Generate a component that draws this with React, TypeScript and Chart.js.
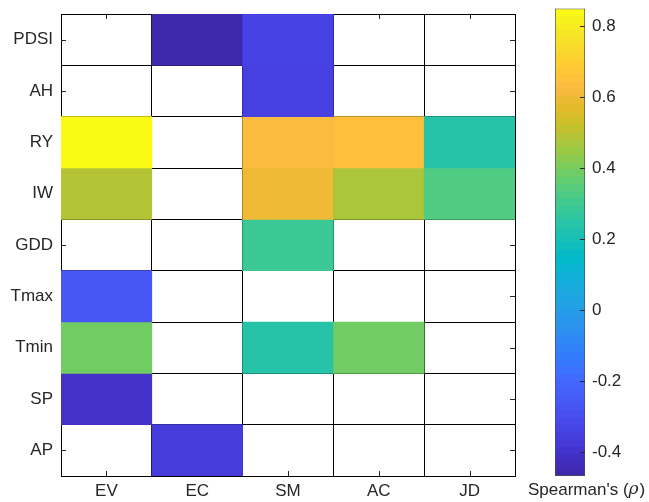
import { useEffect, useRef } from 'react';
import { Chart, registerables } from 'chart.js';

Chart.register(...registerables);

// ---- data ----
const columns = ['EV', 'EC', 'SM', 'AC', 'JD'];
const rowLabels = ['PDSI', 'AH', 'RY', 'IW', 'GDD', 'Tmax', 'Tmin', 'SP', 'AP'];

const PDSI = [null, -0.46, -0.34, null, null];
const AH = [null, null, -0.35, null, null];
const RY = [0.85, null, 0.625, 0.65, 0.24];
const IW = [0.49, null, 0.6, 0.475, 0.33];
const GDD = [null, null, 0.29, null, null];
const Tmax = [-0.26, null, null, null, null];
const Tmin = [0.39, null, 0.24, 0.39, null];
const SP = [-0.41, null, null, null, null];
const AP = [null, -0.365, null, null, null];

const colorMin = -0.467;
const colorMax = 0.85;
const colorbarTicks = [-0.4, -0.2, 0, 0.2, 0.4, 0.6, 0.8];
const colorbarLabel = "Spearman's (";
const colorbarSymbol = 'ρ';

const matrix: (number | null)[][] = [PDSI, AH, RY, IW, GDD, Tmax, Tmin, SP, AP];

// ---- parula colormap (style) ----
const parulaStops: number[][] = [
  [0, 0.2422, 0.1504, 0.6603], [16, 0.2704, 0.2138, 0.8346], [32, 0.2813, 0.2985, 0.9397],
  [48, 0.271, 0.386, 0.9898], [57, 0.2424, 0.4378, 0.9991], [64, 0.2006, 0.4803, 0.9906],
  [80, 0.1716, 0.5655, 0.9393], [96, 0.1288, 0.6408, 0.891], [112, 0.0433, 0.7039, 0.8242],
  [119, 0.0009, 0.7248, 0.7815], [128, 0.077, 0.7468, 0.7224], [144, 0.2061, 0.7808, 0.6065],
  [160, 0.3671, 0.8021, 0.4563], [170, 0.5044, 0.7993, 0.348], [176, 0.5886, 0.7913, 0.2833],
  [192, 0.7945, 0.7554, 0.157], [200, 0.8804, 0.7372, 0.165], [208, 0.9523, 0.7284, 0.2237],
  [212, 0.9842, 0.733, 0.2446], [216, 0.9971, 0.7513, 0.2309], [224, 0.9938, 0.7974, 0.1974],
  [240, 0.9601, 0.8963, 0.1507], [255, 0.9769, 0.9839, 0.0805],
];

function parula(t: number): string {
  const x = Math.max(0, Math.min(1, t)) * 255;
  let i = 0;
  while (i < parulaStops.length - 2 && parulaStops[i + 1][0] < x) i++;
  const a = parulaStops[i];
  const b = parulaStops[i + 1];
  const f = (x - a[0]) / (b[0] - a[0]);
  const c = [1, 2, 3].map((k) => Math.round((a[k] + (b[k] - a[k]) * f) * 255));
  return `rgb(${c[0]},${c[1]},${c[2]})`;
}

const colorFor = (v: number) => parula((v - colorMin) / (colorMax - colorMin));

const FONT = { family: '"Liberation Sans", Arial, Helvetica, sans-serif', size: 17 };
const TEXT = '#262626';

export default function App() {
  const heatRef = useRef<HTMLCanvasElement>(null);
  const barRef = useRef<HTMLCanvasElement>(null);

  useEffect(() => {
    const tickMarks = {
      id: 'tickMarks',
      beforeDatasetsDraw(chart: any) {
        const { ctx, chartArea: a, scales } = chart;
        ctx.save();
        ctx.strokeStyle = TEXT;
        ctx.lineWidth = 1;
        ctx.beginPath();
        rowLabels.forEach((_, i) => {
          const y = Math.round(scales.y.getPixelForValue(i + 0.5)) + 0.5;
          ctx.moveTo(a.left, y); ctx.lineTo(a.left + 5, y);
          ctx.moveTo(a.right - 5, y); ctx.lineTo(a.right, y);
        });
        columns.forEach((_, j) => {
          const x = Math.round(scales.x.getPixelForValue(j)) + 0.5;
          ctx.moveTo(x, a.top); ctx.lineTo(x, a.top + 5);
          ctx.moveTo(x, a.bottom - 5); ctx.lineTo(x, a.bottom);
        });
        ctx.stroke();
        ctx.restore();
      },
    };

    const heat = new Chart(heatRef.current!, {
      type: 'bar',
      data: {
        labels: columns,
        datasets: rowLabels.map((name, i) => ({
          label: name,
          data: matrix[i].map((v) => (v === null ? null : [i, i + 1])) as any,
          backgroundColor: matrix[i].map((v) => (v === null ? '#ffffff' : colorFor(v))),
          borderWidth: 0,
          grouped: false,
          barPercentage: 1,
          categoryPercentage: 1,
          yAxisID: 'y',
        })),
      },
      options: {
        responsive: false,
        animation: false,
        events: [],
        layout: { padding: { left: 0, right: 134, top: 14, bottom: 0 } },
        plugins: { legend: { display: false }, tooltip: { enabled: false } },
        scales: {
          x: {
            type: 'category',
            offset: true,
            z: 1,
            grid: { display: true, offset: true, color: '#000', lineWidth: 1, drawTicks: false },
            border: { display: true, color: '#000' },
            ticks: { font: FONT, color: TEXT, padding: 5, maxRotation: 0, autoSkip: false },
            afterFit: (s: any) => { s.height = 26; s.paddingLeft = 0; s.paddingRight = 0; },
          },
          y: {
            type: 'linear',
            min: 0,
            max: 9,
            reverse: true,
            position: 'left',
            grid: { display: false, drawTicks: false },
            border: { display: false },
            afterBuildTicks: (s: any) => { s.ticks = rowLabels.map((_, i) => ({ value: i + 0.5 })); },
            ticks: {
              font: FONT, color: TEXT, padding: 8, autoSkip: false,
              callback: (v: any) => rowLabels[Math.floor(Number(v))],
            },
            afterFit: (s: any) => { s.width = 61; s.paddingTop = 0; s.paddingBottom = 0; },
          },
          yg: {
            type: 'linear',
            min: 0,
            max: 9,
            reverse: true,
            position: 'left',
            z: 1,
            grid: { display: true, color: '#000', lineWidth: 1, drawTicks: false },
            border: { display: false },
            ticks: { display: false, stepSize: 1 },
            afterFit: (s: any) => { s.width = 0; s.paddingTop = 0; s.paddingBottom = 0; },
          },
        },
      } as any,
      plugins: [tickMarks],
    });

    const colorbarDecor = {
      id: 'colorbarDecor',
      afterDatasetsDraw(chart: any) {
        const { ctx, chartArea: a, scales } = chart;
        ctx.save();
        ctx.strokeStyle = TEXT;
        ctx.lineWidth = 1;
        ctx.beginPath();
        colorbarTicks.forEach((t) => {
          const y = Math.round(scales.y.getPixelForValue(t)) + 0.5;
          ctx.moveTo(a.right - 5, y); ctx.lineTo(a.right, y);
        });
        ctx.stroke();
        // label
        ctx.fillStyle = TEXT;
        ctx.textBaseline = 'middle';
        ctx.textAlign = 'left';
        const ff = FONT.family;
        ctx.font = `${FONT.size}px ${ff}`;
        let x = 528;
        const y = 490;
        ctx.fillText(colorbarLabel, x, y);
        x += ctx.measureText(colorbarLabel).width;
        ctx.font = `italic ${FONT.size}px "DejaVu Serif", serif`;
        ctx.fillText(colorbarSymbol, x, y);
        x += ctx.measureText(colorbarSymbol).width + 1;
        ctx.font = `${FONT.size}px ${ff}`;
        ctx.fillText(')', x, y);
        ctx.restore();
      },
    };

    const cb = new Chart(barRef.current!, {
      type: 'bar',
      data: {
        labels: [''],
        datasets: [
          {
            data: [[colorMin, colorMax]] as any,
            backgroundColor: (c: any) => {
              const area = c.chart.chartArea;
              if (!area) return '#fff';
              const g = c.chart.ctx.createLinearGradient(0, area.bottom, 0, area.top);
              const n = 64;
              for (let k = 0; k < n; k++) {
                const col = parula((k + 0.5) / n);
                g.addColorStop(k / n, col);
                g.addColorStop((k + 1) / n, col);
              }
              return g;
            },
            borderColor: '#4d4d4d',
            borderWidth: 1,
            borderSkipped: false,
            barPercentage: 1,
            categoryPercentage: 1,
          },
        ],
      },
      options: {
        responsive: false,
        animation: false,
        events: [],
        layout: { padding: { left: 555, right: 14, top: 8.5, bottom: 26 } },
        plugins: { legend: { display: false }, tooltip: { enabled: false } },
        scales: {
          x: { display: false, offset: true },
          y: {
            type: 'linear',
            min: colorMin,
            max: colorMax,
            position: 'right',
            grid: { display: false, drawTicks: false },
            border: { display: false },
            afterBuildTicks: (s: any) => { s.ticks = colorbarTicks.map((v) => ({ value: v })); },
            ticks: { font: FONT, color: TEXT, padding: 7, autoSkip: false, callback: (v: any) => String(v) },
            afterFit: (s: any) => { s.width = 50; s.paddingTop = 0; s.paddingBottom = 0; },
          },
        },
      } as any,
      plugins: [colorbarDecor],
    });

    return () => {
      heat.destroy();
      cb.destroy();
    };
  }, []);

  return (
    <div style={{ position: 'absolute', left: 0, top: 0, width: 649, height: 502, background: '#fff' }}>
      <canvas ref={heatRef} width={649} height={502} style={{ position: 'absolute', left: 0, top: 0 }} />
      <canvas ref={barRef} width={649} height={502} style={{ position: 'absolute', left: 0, top: 0 }} />
    </div>
  );
}
